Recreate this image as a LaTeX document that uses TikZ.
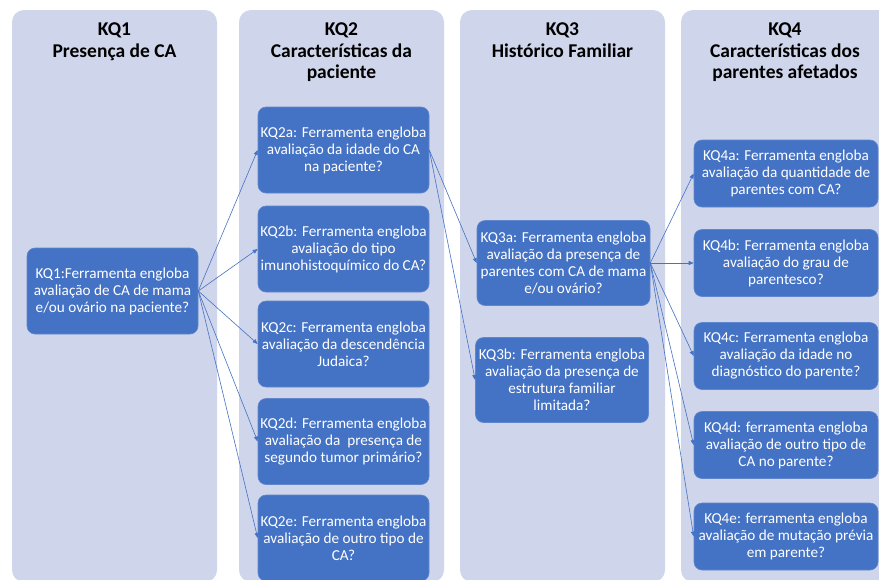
\documentclass[tikz,border=0pt]{standalone}
\usepackage{fontspec}
\setmainfont{Carlito}
\usetikzlibrary{positioning,arrows.meta}
\definecolor{panelbg}{HTML}{CFD5EA}
\definecolor{kqblue}{HTML}{4472C4}

\begin{document}
\begin{tikzpicture}[x=1pt, y=-1pt, >={Triangle[length=5pt,width=4pt]},
  panel/.style={fill=panelbg, rounded corners=12pt},
  head/.style={anchor=north, align=center, font=\fontsize{19.5}{21.5}\selectfont\bfseries},
  kq/.style={fill=kqblue, draw=kqblue!85!white, line width=0.6pt, rounded corners=8pt,
    text=white, align=center, inner sep=0pt, minimum width=171pt, minimum height=86pt,
    font=\fontsize{15.2}{17}\selectfont},
  kqfam/.style={kq, minimum width=184pt, minimum height=67pt},
  link/.style={->, kqblue, line width=0.6pt}]
\fill[white] (0,0) rectangle (879,579);
\useasboundingbox (0,0) rectangle (879,579);
\fill[panel] (12,10) rectangle (217,582);
\fill[panel] (239,10) rectangle (444,582);
\fill[panel] (460,10) rectangle (665,582);
\fill[panel] (681,10) rectangle (890,582);
\node[head] (H1) at (114.5,19.5) {KQ1\\Presença de CA};
\node[head] (H2) at (341.5,19.5) {KQ2\\Características da\\paciente};
\node[head] (H3) at (562.5,19.5) {KQ3\\Histórico Familiar};
\node[head] (H4) at (785,19.5) {KQ4\\Características dos\\parentes afetados};
\node[kq] (Q1) at (112.5,291) {KQ1:Ferramenta engloba\\avaliação de CA de mama\\e/ou ovário na paciente?};
\node[kq] (Q2a) at (343.5,150) {KQ2a: Ferramenta engloba\\avaliação da idade do CA\\na paciente?};
\node[kq] (Q2b) at (343.5,249) {KQ2b: Ferramenta engloba\\avaliação do tipo\\imunohistoquímico do CA?};
\node[kq] (Q2c) at (343.5,344) {KQ2c: Ferramenta engloba\\avaliação da descendência\\Judaica?};
\node[kq] (Q2d) at (343.5,441.5) {KQ2d: Ferramenta engloba\\avaliação da~ presença de\\segundo tumor primário?};
\node[kq] (Q2e) at (343.5,538) {KQ2e: Ferramenta engloba\\avaliação de outro tipo de\\CA?};
\node[kq, minimum width=173pt, minimum height=85pt] (Q3a) at (563.5,263) {KQ3a: Ferramenta engloba\\avaliação da presença de\\parentes com CA de mama\\e/ou ovário?};
\node[kq, minimum width=173pt, minimum height=85pt] (Q3b) at (562,380) {KQ3b: Ferramenta engloba\\avaliação da presença de\\estrutura familiar\\limitada?};
\node[kqfam] (Q4a) at (786,173.5) {KQ4a: Ferramenta engloba\\avaliação da quantidade de\\parentes com CA?};
\node[kqfam] (Q4b) at (786,263) {KQ4b: Ferramenta engloba\\avaliação do grau de\\parentesco?};
\node[kqfam] (Q4c) at (786,356) {KQ4c: Ferramenta engloba\\avaliação da idade no\\diagnóstico do parente?};
\node[kqfam] (Q4d) at (786,445) {KQ4d: ferramenta engloba\\avaliação de outro tipo de\\CA no parente?};
\node[kqfam] (Q4e) at (786,536.5) {KQ4e: ferramenta engloba\\avaliação de mutação prévia\\em parente?};
\foreach \q in {Q2a,Q2b,Q2c,Q2d,Q2e}
  \draw[link] (Q1.east) -- (\q.west);
\foreach \q in {Q3a,Q3b}
  \draw[link] (Q2a.east) -- (\q.west);
\foreach \q in {Q4a,Q4b,Q4c,Q4d,Q4e}
  \draw[link] (Q3a.east) -- (\q.west);
\end{tikzpicture}
\end{document}
